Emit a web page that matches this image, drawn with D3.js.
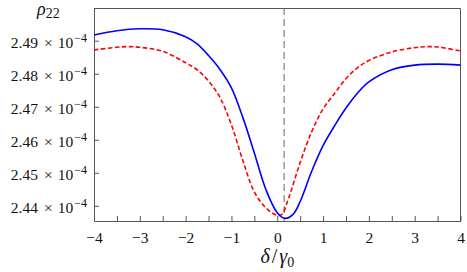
<!DOCTYPE html>
<html>
<head>
<meta charset="utf-8">
<script src="https://cdn.jsdelivr.net/npm/d3@7"></script>
<style>
  body { margin: 0; background: #fff; }
  svg { display: block; }
</style>
</head>
<body>
<div id="chart"></div>
<script>
// detuning delta / gamma0
const deltaBlue = [-4, -3.5, -3, -2.5, -2, -1.75, -1.5, -1.25, -1, -0.75, -0.5, -0.25, 0, 0.17, 0.35, 0.5, 0.75, 1, 1.25, 1.5, 1.75, 2, 2.5, 3, 3.5, 4];
// rho22 in units of 1e-4 (solid blue)
const rhoBlue = [2.4917, 2.4930, 2.4936, 2.4933, 2.4912, 2.4890, 2.4855, 2.4813, 2.4757, 2.4667, 2.4560, 2.4450, 2.4379, 2.4362, 2.4375, 2.4413, 2.4504, 2.4582, 2.4642, 2.4696, 2.4741, 2.4775, 2.4812, 2.4826, 2.4829, 2.4826];

const deltaRed = [-4, -3.5, -3.25, -3, -2.5, -2, -1.75, -1.5, -1.25, -1, -0.75, -0.5, -0.25, 0, 0.1, 0.25, 0.5, 0.75, 1, 1.25, 1.5, 1.75, 2, 2.5, 3, 3.25, 3.5, 4];
// rho22 in units of 1e-4 (dashed red)
const rhoRed = [2.4872, 2.4880, 2.4882, 2.4880, 2.4868, 2.4833, 2.4812, 2.4778, 2.4728, 2.4645, 2.4537, 2.4442, 2.4394, 2.4371, 2.4374, 2.4424, 2.4531, 2.4624, 2.4693, 2.4740, 2.4785, 2.4818, 2.4840, 2.4866, 2.4879, 2.4882, 2.4881, 2.4869];

const xTicks = d3.range(-4, 4.01, 0.5);
const yTicks = [2.44, 2.45, 2.46, 2.47, 2.48, 2.49];
const markerDelta = 0.15;

const W = 467, H = 272;
const margin = {top: 8, right: 6.5, bottom: 51, left: 94};
const width = W - margin.left - margin.right,
      height = H - margin.top - margin.bottom;
const serif = "'Liberation Serif', 'DejaVu Serif', serif";

const svg = d3.select("#chart").append("svg")
    .attr("width", W)
    .attr("height", H);

const g = svg.append("g")
    .attr("transform", "translate(" + margin.left + "," + margin.top + ")");

const x = d3.scaleLinear().domain([-4, 4]).range([0, width]);
const y = d3.scaleLinear().domain([2.4354, 2.4999]).range([height, 0]);

// frame top + right
g.append("path")
    .attr("d", `M0,0.5H${width}V${height}`)
    .attr("fill", "none")
    .attr("stroke", "#555")
    .attr("stroke-width", 1);

// bottom axis, ticks pointing inward
const xAxis = g.append("g")
    .attr("transform", "translate(0," + height + ")")
    .call(d3.axisBottom(x)
      .tickValues(xTicks)
      .tickSizeInner(-5)
      .tickSizeOuter(0)
      .tickPadding(11)
      .tickFormat(d => Number.isInteger(d) ? d3.format("d")(d) : ""));

// left axis, ticks pointing inward
const yAxis = g.append("g")
    .call(d3.axisLeft(y)
      .tickValues(yTicks)
      .tickSizeInner(-5)
      .tickSizeOuter(0)
      .tickPadding(6)
      .tickFormat(""));

[xAxis, yAxis].forEach(ax => {
  ax.attr("font-family", serif).attr("font-size", 15.5);
  ax.select(".domain").attr("stroke", "#555");
  ax.selectAll(".tick line").attr("stroke", "#555");
  ax.selectAll(".tick text").attr("fill", "#111");
});

// y tick labels like 2.49 × 10^-4
yAxis.selectAll(".tick").each(function(d) {
  const t = d3.select(this).select("text")
      .attr("x", -7)
      .attr("dy", "0.42em")
      .attr("text-anchor", "end");
  t.append("tspan").text(d3.format(".2f")(d));
  t.append("tspan").attr("dx", 6).text("×");
  t.append("tspan").attr("dx", 5).text("10");
  t.append("tspan").attr("dy", "-0.45em").attr("dx", 1).attr("font-size", 12).text("−4");
});

// vertical marker line
g.append("line")
    .attr("x1", x(markerDelta)).attr("x2", x(markerDelta))
    .attr("y1", 0).attr("y2", height)
    .attr("stroke", "#666")
    .attr("stroke-width", 1)
    .attr("stroke-dasharray", "7,4");

const line = d3.line()
    .x(d => x(d[0]))
    .y(d => y(d[1]))
    .curve(d3.curveCatmullRom.alpha(0.5));

g.append("path")
    .datum(deltaRed.map((d, i) => [d, rhoRed[i]]))
    .attr("fill", "none")
    .attr("stroke", "#ff0000")
    .attr("stroke-width", 1.6)
    .attr("stroke-dasharray", "4.5,2.5")
    .attr("d", line);

g.append("path")
    .datum(deltaBlue.map((d, i) => [d, rhoBlue[i]]))
    .attr("fill", "none")
    .attr("stroke", "#0000ff")
    .attr("stroke-width", 1.6)
    .attr("d", line);

// axis titles
const ylab = svg.append("text")
    .attr("x", 37).attr("y", 15)
    .attr("font-family", serif)
    .attr("font-size", 18)
    .attr("fill", "#111");
ylab.append("tspan").attr("font-style", "italic").text("ρ");
ylab.append("tspan").attr("dy", "0.2em").attr("font-size", 14).text("22");

const xlab = svg.append("text")
    .attr("x", margin.left + x(0))
    .attr("y", 263)
    .attr("text-anchor", "middle")
    .attr("font-family", serif)
    .attr("font-size", 20)
    .attr("fill", "#111");
xlab.append("tspan").attr("font-style", "italic").text("δ");
xlab.append("tspan").attr("dx", 2).text("/");
xlab.append("tspan").attr("dx", 2).attr("font-style", "italic").text("γ");
xlab.append("tspan").attr("dy", "0.25em").attr("font-size", 14).text("0");
</script>
</body>
</html>
